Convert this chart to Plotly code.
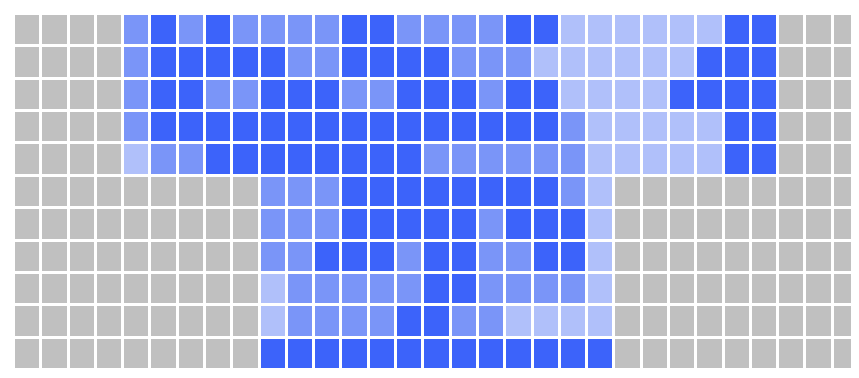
import plotly.graph_objects as go

# Category codes: G = gray (no data), L = light, M = medium, D = dark
categories = ["G", "L", "M", "D"]
category_colors = ["#c0c0c0", "#b0c0fa", "#7a95f8", "#3c63fa"]

# Grid rows, top to bottom (31 columns each)
row_00 = "GGGGMDMDMMMMDDMMMMDDLLLLLLDDGGG"
row_01 = "GGGGMDDDDDMMDDDDMMMLLLLLLDDDGGG"
row_02 = "GGGGMDDMMDDDMMDDDMDDLLLLDDDDGGG"
row_03 = "GGGGMDDDDDDDDDDDDDDDMLLLLLDDGGG"
row_04 = "GGGGLMMDDDDDDDDMMMMMMLLLLLDDGGG"
row_05 = "GGGGGGGGGMMMDDDDDDDDMLGGGGGGGGG"
row_06 = "GGGGGGGGGMMMDDDDDMDDDLGGGGGGGGG"
row_07 = "GGGGGGGGGMMDDDMDDMMDDLGGGGGGGGG"
row_08 = "GGGGGGGGGLMMMMMDDMMMMLGGGGGGGGG"
row_09 = "GGGGGGGGGLMMMMDDMMLLLLGGGGGGGGG"
row_10 = "GGGGGGGGGDDDDDDDDDDDDDGGGGGGGGG"

rows = [row_00, row_01, row_02, row_03, row_04, row_05,
        row_06, row_07, row_08, row_09, row_10]

z = [[categories.index(c) for c in r] for r in rows]
n = len(categories)
colorscale = []
for i, col in enumerate(category_colors):
    colorscale.append([i / n, col])
    colorscale.append([(i + 1) / n, col])

fig = go.Figure(go.Heatmap(
    z=z,
    zmin=-0.5, zmax=n - 0.5,
    colorscale=colorscale,
    showscale=False,
    xgap=3, ygap=3,
    hoverinfo="skip",
))
fig.update_layout(
    width=859, height=378,
    margin=dict(l=6, r=7, t=6, b=16),
    paper_bgcolor="white",
    plot_bgcolor="white",
    xaxis=dict(visible=False, range=[-0.5, 30.5]),
    yaxis=dict(visible=False, autorange="reversed"),
)
fig.write_html("out.html")
